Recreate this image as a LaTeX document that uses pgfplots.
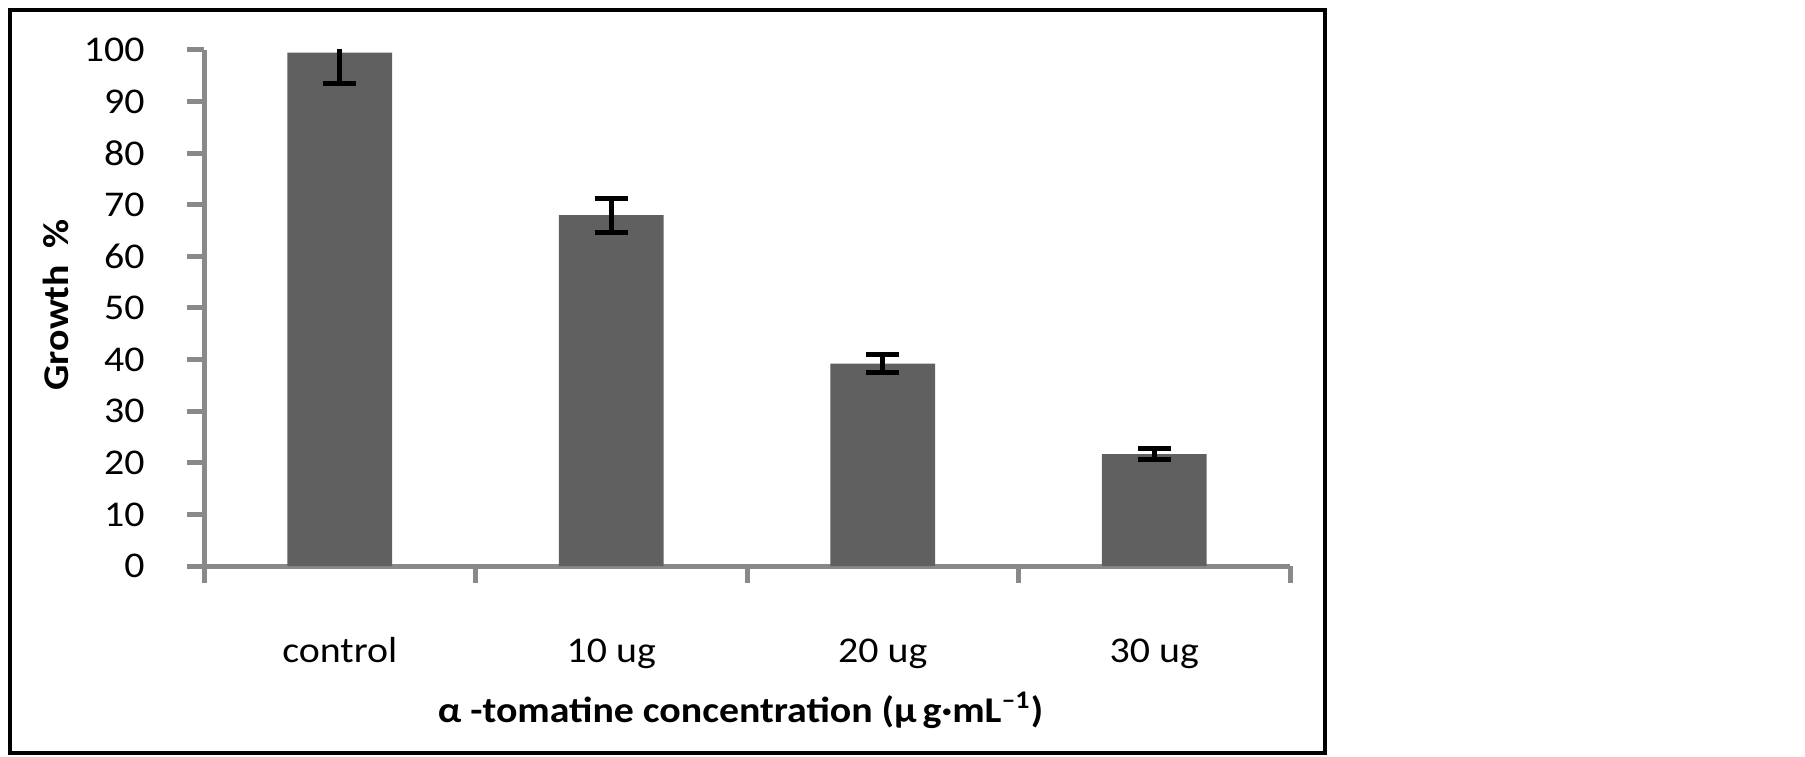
\documentclass[border=0pt]{standalone}
\usepackage{pgfplots}
\pgfplotsset{compat=1.18}
\usepackage{fontspec}
\setmainfont{Carlito}[FakeStretch=1.1]
\definecolor{barc}{HTML}{606060}
\definecolor{axc}{HTML}{898989}
\pgfplotstableread{
x y e
0 99.5 6.0
1 68.0 3.3
2 39.2 1.7
3 21.7 1.1
}\growth
\begin{document}
\begin{tikzpicture}
\useasboundingbox (0,0) rectangle (722pt,302.4pt);
\draw[line width=1.6pt] (4pt,1.4pt) rectangle (529.8pt,298.4pt);
\begin{axis}[
  at={(81.6pt,76pt)}, anchor=south west,
  scale only axis, width=434.4pt, height=206.4pt,
  xmin=-0.5, xmax=3.5, ymin=0, ymax=100,
  ybar, bar width=0.386,
  axis lines*=left, axis line style={axc, line width=2pt, -},
  ytick={0,10,...,100},
  xtick={0,1,2,3}, xticklabels={control,10 ug,20 ug,30 ug},
  minor xtick={-0.5,0.5,1.5,2.5,3.5},
  tick align=outside, major tick length=6.8pt, minor tick length=6.8pt,
  every tick/.style={axc, line width=2pt},
  major x tick style={draw=none},
  /pgf/number format/assume math mode=true,
  ticklabel style={font=\fontsize{14.5}{17}\selectfont, inner sep=0pt},
  yticklabel style={anchor=east, xshift=-16.8pt},
  xticklabel style={anchor=base, yshift=-31.6pt},
  xlabel={α -tomatine concentration (µ\,g·mL\textsuperscript{–1})},
  xlabel style={at={([xshift=-2.6pt,yshift=-62.4pt]axis description cs:0.5,0)}, anchor=base, font=\bfseries\fontsize{14.5}{17}\selectfont, inner sep=0pt},
  ylabel={Growth\hspace{0.45em}\%},
  ylabel style={at={([xshift=-54.4pt,yshift=1.2pt]axis description cs:0,0.5)}, anchor=base, rotate=0, font=\bfseries\fontsize{14.5}{17}\selectfont, inner sep=0pt},
]
\addplot[fill=barc, draw=none,
  error bars/.cd, y dir=both, y explicit,
  error bar style={line width=2pt, black},
  error mark options={rotate=90, mark size=6.6pt, line width=2pt, black}]
  table[x=x, y=y, y error=e]{\growth};
\end{axis}
\end{tikzpicture}
\end{document}
